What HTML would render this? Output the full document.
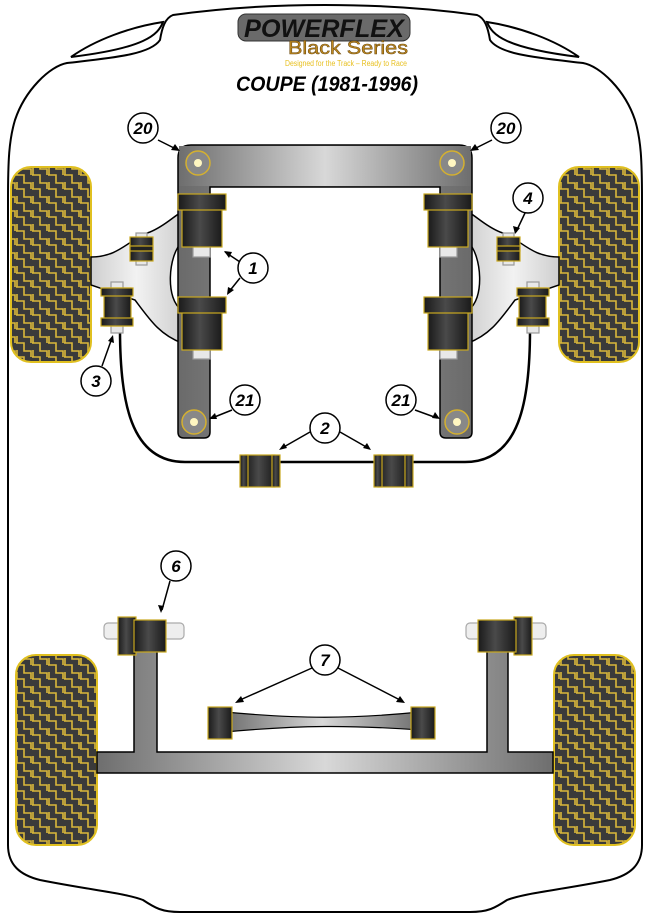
<!DOCTYPE html>
<html><head><meta charset="utf-8"><style>
html,body{margin:0;padding:0;background:#fff;}
svg{display:block;}
text{font-family:"Liberation Sans",sans-serif;}
</style></head><body>
<svg width="650" height="919" viewBox="0 0 650 919" xmlns="http://www.w3.org/2000/svg">
<defs>
<pattern id="tread" width="16" height="14" patternUnits="userSpaceOnUse">
<rect width="16" height="14" fill="#3a3a3a"/>
<path d="M1 0 v7 h7 v7 M8 0 v1 h7 v6 M1 7 h-1" stroke="#d9b73a" stroke-width="1.6" fill="none"/>
</pattern>
<linearGradient id="bar" x1="0" x2="1" y1="0" y2="0">
<stop offset="0" stop-color="#6e6e6e"/><stop offset="0.5" stop-color="#d8d8d8"/><stop offset="1" stop-color="#6e6e6e"/>
</linearGradient>
<linearGradient id="barv" x1="0" x2="1">
<stop offset="0" stop-color="#6a6a6a"/><stop offset="0.5" stop-color="#9a9a9a"/><stop offset="1" stop-color="#6a6a6a"/>
</linearGradient>
<linearGradient id="bush" x1="0" x2="1">
<stop offset="0" stop-color="#1a1a1a"/><stop offset="0.45" stop-color="#4a4a4a"/><stop offset="1" stop-color="#1a1a1a"/>
</linearGradient>
<linearGradient id="arm" x1="0" x2="1">
<stop offset="0" stop-color="#cfcfcf"/><stop offset="0.5" stop-color="#f2f2f2"/><stop offset="1" stop-color="#d0d0d0"/>
</linearGradient>
<linearGradient id="arml" x1="0" x2="1">
<stop offset="0" stop-color="#d0d0d0"/><stop offset="0.5" stop-color="#f2f2f2"/><stop offset="1" stop-color="#cfcfcf"/>
</linearGradient>
</defs>

<path d="M173 15 C230 7 280 5 325 5 C370 5 420 7 477 15 C485 18 488 28 490 40 C500 55 540 58 583 63 C600 66 625 90 635 120 C641 140 642 160 642 200 L642 845 C642 865 630 875 610 880 C560 890 525 893 507 900 C495 908 488 912 470 912 L180 912 C162 912 155 908 143 900 C125 893 90 890 40 880 C20 875 8 865 8 845 L8 200 C8 160 9 140 15 120 C25 90 50 66 67 63 C110 58 150 55 160 40 C162 28 165 18 173 15 Z" fill="#fff" stroke="#000" stroke-width="2"/>
<path d="M71 57 C95 40 130 27 163 22 C158 35 145 48 71 57 Z" fill="#fff" stroke="#000" stroke-width="2"/>
<path d="M579 57 C555 40 520 27 487 22 C492 35 505 48 579 57 Z" fill="#fff" stroke="#000" stroke-width="2"/>

<rect x="238" y="14" width="172" height="27" rx="8" fill="#6a6a6a" stroke="#333"/>
<text x="324" y="37" text-anchor="middle" font-size="25" font-weight="bold" font-style="italic" fill="#111" textLength="160" lengthAdjust="spacingAndGlyphs">POWERFLEX</text>
<text x="348" y="54" text-anchor="middle" font-size="18" fill="#c08a20" stroke="#6b4a10" stroke-width="0.5" textLength="120" lengthAdjust="spacingAndGlyphs">Black Series</text>
<text x="346" y="66" text-anchor="middle" font-size="8" fill="#e8c020" textLength="122" lengthAdjust="spacingAndGlyphs">Designed for the Track – Ready to Race</text>
<text x="327" y="91" text-anchor="middle" font-size="21" font-weight="bold" font-style="italic" fill="#000" textLength="182" lengthAdjust="spacingAndGlyphs">COUPE (1981-1996)</text>

<rect x="11" y="167" width="80" height="195" rx="20" fill="url(#tread)" stroke="#e0c020" stroke-width="2"/>
<rect x="559" y="167" width="80" height="195" rx="20" fill="url(#tread)" stroke="#e0c020" stroke-width="2"/>

<path d="M91 257 C120 257 130 238 150 232 C165 226 175 215 182 212 L182 242 C168 255 165 300 182 310 L182 343 C160 335 150 320 135 300 L91 285 Z" fill="url(#arm)" stroke="#000" stroke-width="1.5"/>
<path d="M559 257 C530 257 520 238 500 232 C485 226 475 215 468 212 L468 242 C482 255 485 300 468 310 L468 343 C490 335 500 320 515 300 L559 285 Z" fill="url(#arml)" stroke="#000" stroke-width="1.5"/>

<path d="M120 330 C120 400 130 462 185 462 L465 462 C520 462 530 400 530 330" fill="none" stroke="#000" stroke-width="2.5"/>

<path d="M178 158 Q178 145 191 145 L459 145 Q472 145 472 158 L472 432 Q472 438 466 438 L446 438 Q440 438 440 432 L440 187 L210 187 L210 432 Q210 438 204 438 L184 438 Q178 438 178 432 Z" fill="url(#barv)" stroke="#000" stroke-width="1.5"/>
<rect x="179" y="146" width="292" height="40" fill="url(#bar)"/>
<circle cx="198" cy="163" r="12" fill="#888" stroke="#d4b030" stroke-width="1.5"/><circle cx="198" cy="163" r="4" fill="#fff6c0"/>
<circle cx="452" cy="163" r="12" fill="#888" stroke="#d4b030" stroke-width="1.5"/><circle cx="452" cy="163" r="4" fill="#fff6c0"/>
<circle cx="194" cy="422" r="12" fill="#888" stroke="#d4b030" stroke-width="1.5"/><circle cx="194" cy="422" r="4" fill="#fff6c0"/>
<circle cx="457" cy="422" r="12" fill="#888" stroke="#d4b030" stroke-width="1.5"/><circle cx="457" cy="422" r="4" fill="#fff6c0"/>

<g stroke="#c9a820" stroke-width="1.2">
<rect x="193" y="245" width="17" height="12" fill="#e8e8e8" stroke="#999"/>
<rect x="182" y="208" width="40" height="39" fill="url(#bush)"/>
<rect x="178" y="194" width="48" height="16" fill="url(#bush)"/>
<rect x="193" y="348" width="17" height="11" fill="#e8e8e8" stroke="#999"/>
<rect x="182" y="311" width="40" height="39" fill="url(#bush)"/>
<rect x="178" y="297" width="48" height="16" fill="url(#bush)"/>
<rect x="440" y="245" width="17" height="12" fill="#e8e8e8" stroke="#999"/>
<rect x="428" y="208" width="40" height="39" fill="url(#bush)"/>
<rect x="424" y="194" width="48" height="16" fill="url(#bush)"/>
<rect x="440" y="348" width="17" height="11" fill="#e8e8e8" stroke="#999"/>
<rect x="428" y="311" width="40" height="39" fill="url(#bush)"/>
<rect x="424" y="297" width="48" height="16" fill="url(#bush)"/>
<rect x="136" y="233" width="11" height="32" fill="#e8e8e8" stroke="#999"/>
<rect x="130" y="237" width="23" height="24" fill="url(#bush)"/>
<rect x="130" y="246" width="23" height="5" fill="#222"/>
<rect x="503" y="233" width="11" height="32" fill="#e8e8e8" stroke="#999"/>
<rect x="497" y="237" width="23" height="24" fill="url(#bush)"/>
<rect x="497" y="246" width="23" height="5" fill="#222"/>
<rect x="111" y="282" width="12" height="51" fill="#e8e8e8" stroke="#999"/>
<rect x="104" y="288" width="27" height="38" fill="url(#bush)"/>
<rect x="101" y="288" width="32" height="8" fill="url(#bush)"/>
<rect x="101" y="318" width="32" height="8" fill="url(#bush)"/>
<rect x="527" y="282" width="12" height="51" fill="#e8e8e8" stroke="#999"/>
<rect x="519" y="288" width="27" height="38" fill="url(#bush)"/>
<rect x="517" y="288" width="32" height="8" fill="url(#bush)"/>
<rect x="517" y="318" width="32" height="8" fill="url(#bush)"/>
<rect x="245" y="455" width="30" height="32" fill="url(#bush)"/>
<rect x="240" y="455" width="8" height="32" fill="url(#bush)"/>
<rect x="272" y="455" width="8" height="32" fill="url(#bush)"/>
<rect x="378" y="455" width="30" height="32" fill="url(#bush)"/>
<rect x="374" y="455" width="8" height="32" fill="url(#bush)"/>
<rect x="405" y="455" width="8" height="32" fill="url(#bush)"/>
</g>

<rect x="16" y="655" width="81" height="190" rx="20" fill="url(#tread)" stroke="#e0c020" stroke-width="2"/>
<rect x="554" y="655" width="81" height="190" rx="20" fill="url(#tread)" stroke="#e0c020" stroke-width="2"/>

<path d="M134 640 L157 640 L157 752 L487 752 L487 640 L508 640 L508 752 L553 752 L553 773 L97 773 L97 752 L134 752 Z" fill="url(#bar)" stroke="#000" stroke-width="1.5"/>
<g stroke="#c9a820" stroke-width="1.2">
<rect x="104" y="623" width="80" height="16" rx="4" fill="#eee" stroke="#aaa"/>
<rect x="118" y="617" width="18" height="38" fill="url(#bush)"/>
<rect x="134" y="620" width="32" height="32" fill="url(#bush)"/>
<rect x="466" y="623" width="80" height="16" rx="4" fill="#eee" stroke="#aaa"/>
<rect x="514" y="617" width="18" height="38" fill="url(#bush)"/>
<rect x="478" y="620" width="38" height="32" fill="url(#bush)"/>
</g>
<path d="M225 712 C300 719 350 719 420 712 L420 730 C350 725 300 725 225 732 Z" fill="url(#bar)" stroke="#000" stroke-width="1.2"/>
<g stroke="#c9a820" stroke-width="1.2">
<rect x="208" y="707" width="24" height="32" fill="url(#bush)"/>
<rect x="411" y="707" width="24" height="32" fill="url(#bush)"/>
</g>

<g stroke="#000" stroke-width="1.5" fill="none">
<path d="M158 140 L178 150"/><path d="M492 140 L472 150"/>
<path d="M240 262 L225 252"/><path d="M240 278 L228 293"/>
<path d="M525 213 L516 232"/>
<path d="M102 366 L112 338"/>
<path d="M232 410 L212 418"/><path d="M415 410 L437 418"/>
<path d="M310 432 L282 448"/><path d="M340 432 L368 448"/>
<path d="M170 581 L162 610"/>
<path d="M312 668 L240 700"/><path d="M338 668 L400 700"/>
</g>
<g fill="#000">
<path d="M180 151 l-9 -1 4 -6z"/><path d="M470 151 l9 -1 -4 -6z"/>
<path d="M224 251 l8 1 -3 6z"/><path d="M227 295 l1 -8 6 3z"/>
<path d="M515 234 l-2 -8 7 2z"/>
<path d="M113 335 l1 8 -6 -2z"/>
<path d="M209 419 l6 -6 2 6z"/><path d="M440 419 l-8 -1 3 -6z"/>
<path d="M279 450 l5 -7 3 5z"/><path d="M371 450 l-8 -2 4 -5z"/>
<path d="M161 613 l-3 -8 6 1z"/>
<path d="M235 703 l6 -7 3 6z"/><path d="M405 703 l-9 -1 4 -6z"/>
</g>
<g fill="#fff" stroke="#000" stroke-width="1.5">
<circle cx="143" cy="128" r="15"/><circle cx="506" cy="128" r="15"/>
<circle cx="253" cy="268" r="15"/><circle cx="528" cy="198" r="15"/>
<circle cx="96" cy="381" r="15"/><circle cx="245" cy="400" r="15"/>
<circle cx="401" cy="400" r="15"/><circle cx="325" cy="428" r="15"/>
<circle cx="176" cy="566" r="15"/><circle cx="325" cy="660" r="15"/>
</g>
<g font-size="17" font-weight="bold" font-style="italic" text-anchor="middle" fill="#000">
<text x="143" y="134">20</text><text x="506" y="134">20</text>
<text x="253" y="274">1</text><text x="528" y="204">4</text>
<text x="96" y="387">3</text><text x="245" y="406">21</text>
<text x="401" y="406">21</text><text x="325" y="434">2</text>
<text x="176" y="572">6</text><text x="325" y="666">7</text>
</g>
</svg>
</body></html>
